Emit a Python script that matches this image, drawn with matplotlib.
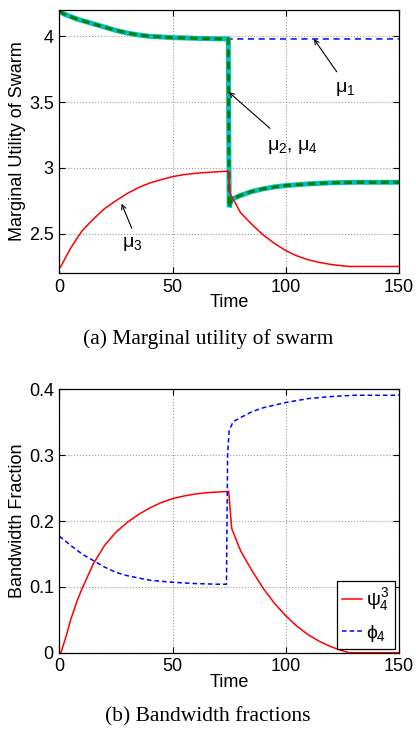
import matplotlib
matplotlib.use("Agg")
import matplotlib.pyplot as plt

plt.rcParams['font.family'] = ['Liberation Sans', 'DejaVu Sans']
plt.rcParams['mathtext.fontset'] = 'custom'
plt.rcParams['mathtext.rm'] = 'Liberation Sans'
plt.rcParams['mathtext.it'] = 'Liberation Sans'

# ---------------- data: top panel ----------------
t_top = [0, 2, 5, 8, 10, 15, 20, 25, 30, 35, 40, 45, 50, 55, 60, 65, 70, 74.6,
         75, 76, 80, 85, 90, 95, 100, 110, 120, 130, 140, 150]
mu24 = [4.19, 4.17, 4.15, 4.13, 4.12, 4.095, 4.07, 4.045, 4.025, 4.01, 4.0, 3.995,
        3.99, 3.988, 3.985, 3.983, 3.981, 3.98,
        2.70, 2.76, 2.79, 2.82, 2.84, 2.855, 2.865, 2.878, 2.886, 2.89, 2.89, 2.89]
t_mu1 = [0, 2, 5, 8, 10, 15, 20, 25, 30, 35, 40, 45, 50, 55, 60, 65, 70, 74.6, 150]
mu1 = [4.19, 4.17, 4.15, 4.13, 4.12, 4.095, 4.07, 4.045, 4.025, 4.01, 4.0, 3.995,
       3.99, 3.988, 3.985, 3.983, 3.981, 3.98, 3.98]
t_mu3 = [0.5, 5, 10, 15, 20, 25, 30, 35, 40, 45, 50, 55, 60, 65, 70, 74.6,
         75.4, 80, 85, 90, 95, 100, 105, 110, 115, 120, 125, 128, 150]
mu3 = [2.245, 2.39, 2.52, 2.61, 2.69, 2.75, 2.805, 2.85, 2.885, 2.91, 2.933, 2.948,
       2.958, 2.965, 2.97, 2.975,
       2.805, 2.66, 2.57, 2.49, 2.425, 2.37, 2.33, 2.30, 2.28, 2.265, 2.255, 2.25, 2.25]

# ---------------- data: bottom panel ----------------
t_psi = [0.7, 3, 5, 8, 10, 15, 20, 25, 30, 35, 40, 45, 50, 55, 60, 65, 70, 74.8,
         76.1, 80, 85, 90, 95, 100, 105, 110, 115, 120, 125, 128, 150]
psi = [0.0, 0.025, 0.05, 0.08, 0.097, 0.135, 0.163, 0.183, 0.198, 0.21, 0.22, 0.228,
       0.234, 0.238, 0.241, 0.243, 0.244, 0.245,
       0.189, 0.155, 0.125, 0.098, 0.075, 0.056, 0.04, 0.027, 0.017, 0.009, 0.003, 0.0, 0.0]
t_phi = [0, 5, 10, 15, 20, 25, 30, 40, 50, 60, 70, 73.8, 74.3, 75.0, 76.8, 80, 85,
         90, 100, 110, 120, 130, 140, 150]
phi = [0.177, 0.163, 0.150, 0.140, 0.130, 0.122, 0.117, 0.110, 0.107, 0.105, 0.104,
       0.104, 0.30, 0.338, 0.351, 0.357, 0.366, 0.372, 0.380, 0.386, 0.389, 0.391,
       0.391, 0.391]

fig = plt.figure(figsize=(4.16, 7.31), dpi=100)
ax1 = fig.add_axes([0.1426, 0.6265, 0.8166, 0.3598])
ax2 = fig.add_axes([0.1426, 0.1071, 0.8166, 0.3603])

FS = 13

def style(ax):
    ax.grid(True, linestyle=':', color='#999999', linewidth=0.8)
    ax.tick_params(direction='in', top=True, right=True, labelsize=FS, length=4,
                   width=0.8, pad=4)
    for s in ax.spines.values():
        s.set_linewidth(0.9)
        s.set_color('black')
    ax.set_xlim(0, 150)
    ax.set_xticks([0, 50, 100, 150])
    ax.set_xlabel('Time', fontsize=FS, labelpad=-1)

# ---- top ----
ax1.plot(t_mu1, mu1, color='#0000FF', linestyle='--', linewidth=1.1, dashes=(4, 3))
ax1.plot(t_top, mu24, color='#00BFBF', linewidth=3.6, solid_joinstyle='miter')
ax1.plot(t_top, mu24, color='#008000', linewidth=2.2, linestyle='--', dashes=(2.5, 1.5))
ax1.plot(t_mu3, mu3, color='#FF0000', linewidth=1.1)
ax1.set_ylim(2.2, 4.2)
ax1.set_yticks([2.5, 3, 3.5, 4])
ax1.set_yticklabels(['2.5', '3', '3.5', '4'])
style(ax1)
ax1.set_ylabel('Marginal Utility of Swarm', fontsize=FS, labelpad=2)

arrow = dict(arrowstyle='->', color='black', linewidth=0.8, shrinkA=0, shrinkB=0,
             mutation_scale=8)
ax1.annotate('', xy=(112.4, 3.98), xytext=(122.5, 3.73), arrowprops=arrow)
ax1.text(126, 3.60, r'$\mu_1$', fontsize=FS + 1, ha='center', va='center')
ax1.annotate('', xy=(74.8, 3.576), xytext=(93, 3.30), arrowprops=arrow)
ax1.text(103, 3.16, r'$\mu_2$, $\mu_4$', fontsize=FS + 1, ha='center', va='center')
ax1.annotate('', xy=(27.5, 2.727), xytext=(32, 2.54), arrowprops=arrow)
ax1.text(32, 2.42, r'$\mu_3$', fontsize=FS + 1, ha='center', va='center')

# ---- bottom ----
ax2.plot(t_psi, psi, color='#FF0000', linewidth=1.1, label=r'$\psi_4^3$')
ax2.plot(t_phi, phi, color='#0000FF', linewidth=1.1, linestyle='--', dashes=(3, 2),
         label=r'$\phi_4$')
ax2.set_ylim(0, 0.4)
ax2.set_yticks([0, 0.1, 0.2, 0.3, 0.4])
ax2.set_yticklabels(['0', '0.1', '0.2', '0.3', '0.4'])
style(ax2)
ax2.set_ylabel('Bandwidth Fraction', fontsize=FS, labelpad=2)
leg = ax2.legend(loc='lower right', fontsize=FS + 1, frameon=True, fancybox=False,
                 edgecolor='black', framealpha=1, handlelength=1.05,
                 borderaxespad=0.2, handletextpad=0.2, labelspacing=0.5,
                 borderpad=0.25)
leg.get_frame().set_linewidth(0.9)

fig.text(0.5, 1 - 339 / 731, '(a) Marginal utility of swarm', ha='center',
         va='center', fontsize=15.5, family='Liberation Serif')
fig.text(0.5, 1 - 717 / 731, '(b) Bandwidth fractions', ha='center',
         va='center', fontsize=15.5, family='Liberation Serif')

fig.savefig('out.png', dpi=100)
